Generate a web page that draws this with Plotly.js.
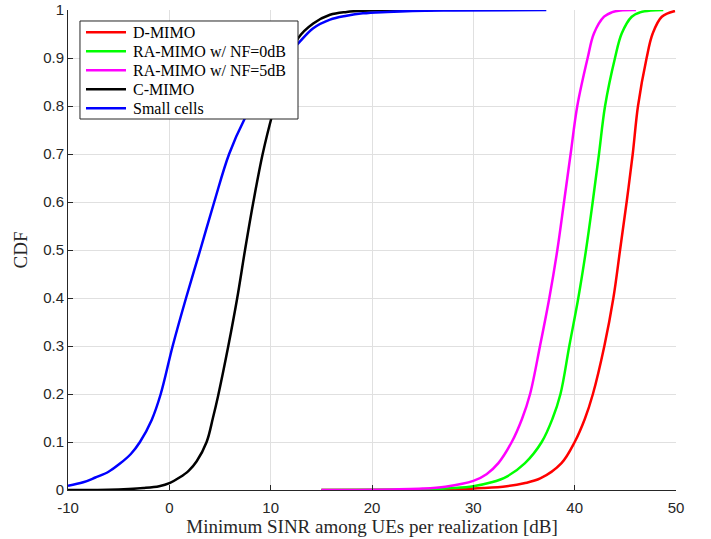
<!DOCTYPE html>
<html>
<head>
<meta charset="utf-8">
<script src="https://cdn.plot.ly/plotly-3.0.1.min.js"></script>
<style>html,body{margin:0;padding:0;background:#fff;}#chart{width:711px;height:539px;}</style>
</head>
<body>
<div id="chart"></div>
<script>
// ---- Data ----
const seriesNames = ['D-MIMO', 'RA-MIMO w/ NF=0dB', 'RA-MIMO w/ NF=5dB', 'C-MIMO', 'Small cells'];

const dmimoX = [15, 25, 28, 31, 33.3, 35, 36.6, 38.7, 40.0, 41.0, 41.8, 42.93, 43.82, 44.48, 45.13, 45.73, 46.25, 47.1, 47.7, 48.6, 49.9];
const dmimoY = [0, 0.0003, 0.001, 0.004, 0.008, 0.014, 0.024, 0.056, 0.1, 0.148, 0.2, 0.3, 0.4, 0.5, 0.6, 0.7, 0.8, 0.9, 0.951, 0.986, 0.998];

const ra0X = [15, 22, 25, 28, 30, 31.8, 33.3, 35.1, 36.75, 37.8, 38.6, 39.47, 40.36, 41.12, 41.78, 42.4, 43.0, 43.98, 44.64, 45.63, 46.45, 47.5, 48.75];
const ra0Y = [0, 0.0003, 0.001, 0.004, 0.008, 0.016, 0.028, 0.056, 0.1, 0.148, 0.2, 0.3, 0.4, 0.5, 0.6, 0.7, 0.8, 0.9, 0.951, 0.986, 0.995, 0.999, 1.0];

const ra5X = [15, 20, 25, 27.24, 30, 31.3, 32.47, 33.79, 34.8, 35.6, 36.58, 37.5, 38.29, 38.95, 39.6, 40.26, 41.28, 41.9, 42.9, 43.65, 44.5, 46.05];
const ra5Y = [0, 0.0005, 0.003, 0.007, 0.019, 0.033, 0.056, 0.1, 0.148, 0.2, 0.3, 0.4, 0.5, 0.6, 0.7, 0.8, 0.9, 0.951, 0.986, 0.995, 0.999, 1.0];

const cmimoX = [-10, -6, -4, -2.57, -1, 0.07, 1.0, 1.9, 2.7, 3.68, 4.3, 4.8, 5.82, 6.7, 7.47, 8.29, 9.21, 10.2, 11.4, 12.7, 14.2, 15.86, 17.5, 19.1, 22, 26];
const cmimoY = [0, 0.0005, 0.002, 0.004, 0.008, 0.015, 0.026, 0.04, 0.06, 0.1, 0.15, 0.195, 0.3, 0.4, 0.5, 0.6, 0.7, 0.785, 0.872, 0.941, 0.972, 0.99, 0.996, 0.9986, 0.9996, 1.0];

const smallX = [-10, -8.5, -7.3, -6, -4.87, -3.8, -2.9, -1.74, -0.85, 0.33, 1.65, 3.05, 4.43, 5.9, 7.47, 9, 10.5, 11.6, 12.7, 14.2, 15.86, 17.5, 19.1, 21.5, 24, 28, 37.2];
const smallY = [0.009, 0.016, 0.026, 0.038, 0.055, 0.075, 0.1, 0.146, 0.2, 0.3, 0.4, 0.5, 0.6, 0.7, 0.775, 0.831, 0.876, 0.905, 0.93, 0.962, 0.98, 0.988, 0.993, 0.996, 0.998, 0.999, 1.0];

const xTickVals = [-10, 0, 10, 20, 30, 40, 50];
const xTickLabels = ['-10', '0', '10', '20', '30', '40', '50'];
const yTickVals = [0, 0.1, 0.2, 0.3, 0.4, 0.5, 0.6, 0.7, 0.8, 0.9, 1];
const yTickLabels = ['0', '0.1', '0.2', '0.3', '0.4', '0.5', '0.6', '0.7', '0.8', '0.9', '1'];

const colors = ['#ff0000', '#00ff00', '#ff00ff', '#000000', '#0000ff'];
const xs = [dmimoX, ra0X, ra5X, cmimoX, smallX];
const ys = [dmimoY, ra0Y, ra5Y, cmimoY, smallY];

const traces = seriesNames.map((name, i) => ({
  x: xs[i], y: ys[i], name: name, type: 'scatter', mode: 'lines',
  line: {color: colors[i], width: 2.5, shape: 'spline', smoothing: 1.0}
}));

const axisColor = '#262626';
const gridColor = '#e0e0e0';
const tickFont = {family: '"Liberation Sans", Arial, sans-serif', size: 15, color: axisColor};
const serif = '"Liberation Serif", "Times New Roman", serif';

// ---- MATLAB-style legend box (paper coordinates of the plot area) ----
const legBox = {x0: 0.0197, x1: 0.3783, y0: 0.7729, y1: 0.9771};
const legLineX = [0.0296, 0.0954];
const legTextX = 0.1036;
const legTopY = 0.9536, legStep = 0.0396;

const shapes = [{
  type: 'rect', xref: 'paper', yref: 'paper', layer: 'above',
  x0: legBox.x0, x1: legBox.x1, y0: legBox.y0, y1: legBox.y1,
  fillcolor: '#ffffff', line: {color: axisColor, width: 1}
}];
const annotations = [];
seriesNames.forEach((name, i) => {
  const yy = legTopY - i * legStep;
  shapes.push({
    type: 'line', xref: 'paper', yref: 'paper', layer: 'above',
    x0: legLineX[0], x1: legLineX[1], y0: yy, y1: yy,
    line: {color: colors[i], width: 2.5}
  });
  annotations.push({
    xref: 'paper', yref: 'paper', x: legTextX, y: yy, xanchor: 'left', yanchor: 'middle',
    text: name, showarrow: false, font: {family: serif, size: 16, color: '#000000'}
  });
});

const layout = {
  width: 711, height: 539,
  margin: {l: 68, r: 35, t: 10, b: 49},
  paper_bgcolor: '#ffffff', plot_bgcolor: '#ffffff',
  showlegend: false,
  xaxis: {
    range: [-10, 50], tickvals: xTickVals, ticktext: xTickLabels,
    showgrid: true, gridcolor: gridColor, gridwidth: 1, zeroline: false,
    showline: true, linecolor: axisColor, linewidth: 1, mirror: false,
    ticks: 'inside', ticklen: 5, tickcolor: axisColor, tickwidth: 1,
    tickfont: tickFont, ticklabelstandoff: 4,
    title: {text: 'Minimum SINR among UEs per realization [dB]', font: {family: serif, size: 19, color: axisColor}, standoff: 3}
  },
  yaxis: {
    range: [0, 1], tickvals: yTickVals, ticktext: yTickLabels,
    showgrid: true, gridcolor: gridColor, gridwidth: 1, zeroline: false,
    showline: true, linecolor: axisColor, linewidth: 1, mirror: false,
    ticks: 'inside', ticklen: 5, tickcolor: axisColor, tickwidth: 1,
    tickfont: tickFont,
    title: {text: 'CDF', font: {family: serif, size: 19, color: axisColor}, standoff: 10}
  },
  shapes: shapes,
  annotations: annotations
};

Plotly.newPlot('chart', traces, layout, {displayModeBar: false, staticPlot: true});
</script>
</body>
</html>
